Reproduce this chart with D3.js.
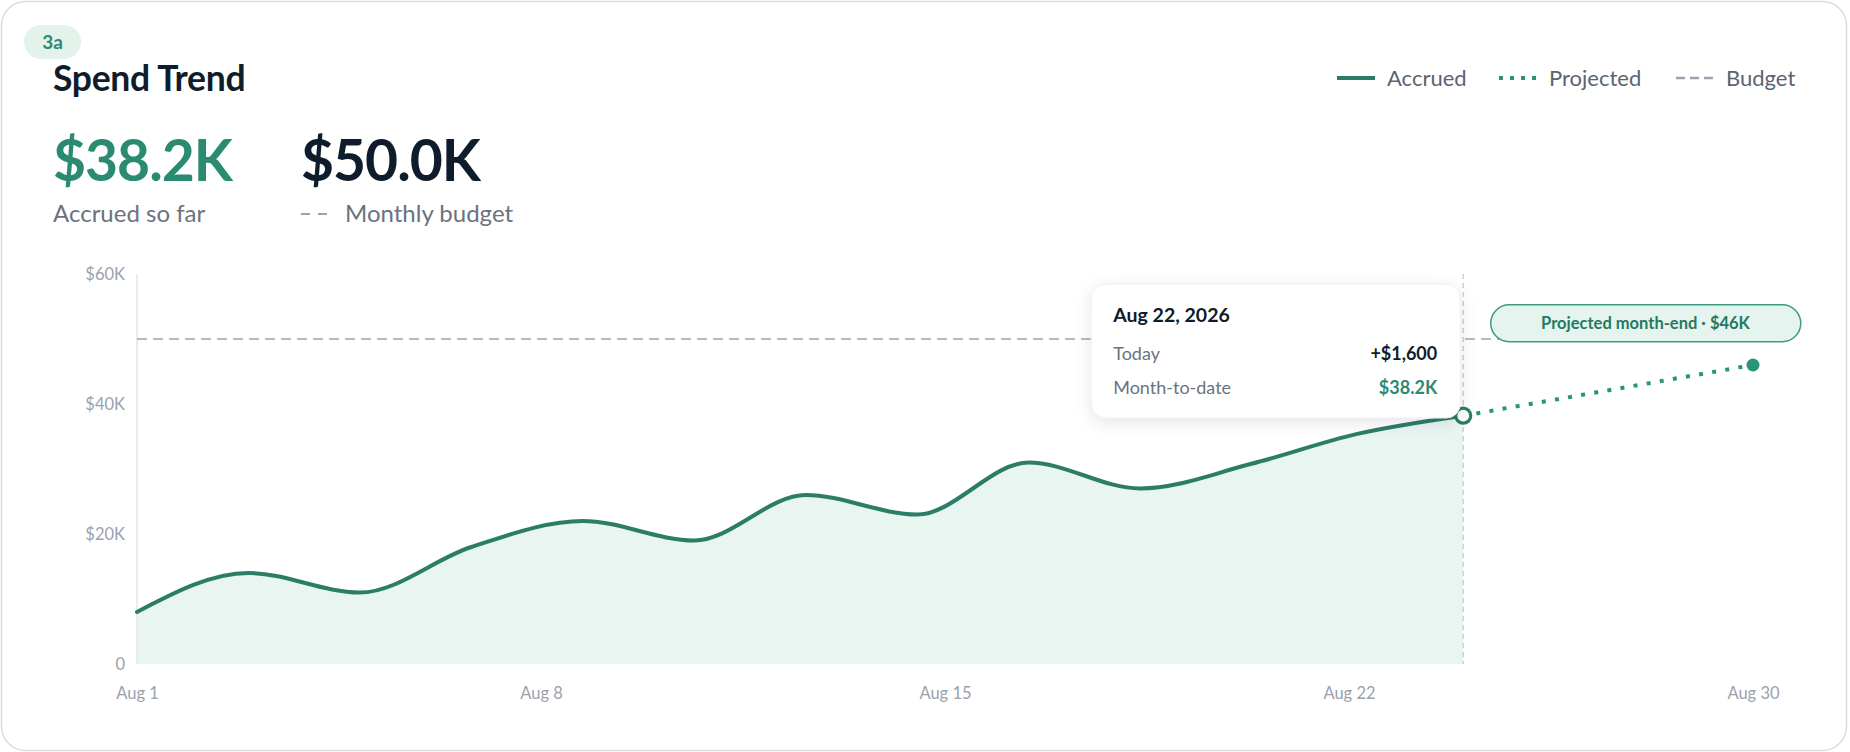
<!DOCTYPE html>
<html>
<head>
<meta charset="utf-8">
<script src="https://cdn.jsdelivr.net/npm/d3@7"></script>
<style>
  html, body { margin: 0; padding: 0; background: #ffffff; }
  svg { display: block; font-family: Lato, "Noto Sans", sans-serif; }
</style>
</head>
<body>
<svg id="chart" width="1850" height="752"></svg>
<script>
// ---------- data ----------
const days = [1, 3, 5, 7, 9, 11, 13, 15, 17, 19, 21, 22.9, 24.8];      // position along the month
const accrued = [8, 14, 11, 18, 22, 19, 26, 23, 31, 27, 30.8, 35.4, 38.2]; // $K
const projectedDays = [24.8, 30];
const projected = [38.2, 46]; // $K
const budget = 50; // $K
const yTicks = [0, 20, 40, 60];
const xTickLabels = ["Aug 1", "Aug 8", "Aug 15", "Aug 22", "Aug 30"];
const legendLabels = ["Accrued", "Projected", "Budget"];
const tooltipRows = [["Today", "+$1,600"], ["Month-to-date", "$38.2K"]];
const tooltipTitle = "Aug 22, 2026";
const pillText = "Projected month-end · $46K";

// ---------- styles ----------
const C = {
  line: "#2b7d68", proj: "#2a9478", area: "#e8f5f1", ink: "#0f1c2b",
  gray: "#6b7280", axis: "#9aa1ad", budget: "#9ca3af", green: "#2b8a72"
};

const svg = d3.select("#chart");
const defs = svg.append("defs");
const f = defs.append("filter").attr("id", "sh").attr("x", "-20%").attr("y", "-30%").attr("width", "140%").attr("height", "170%");
f.append("feDropShadow").attr("dx", 0).attr("dy", 4).attr("stdDeviation", 8).attr("flood-color", "#000").attr("flood-opacity", 0.10);

// card
svg.append("rect").attr("x", 1.5).attr("y", 1.5).attr("width", 1845).attr("height", 749)
  .attr("rx", 24).attr("fill", "#fff").attr("stroke", "#d9dce1").attr("stroke-width", 1.5);

// badge
svg.append("rect").attr("x", 24).attr("y", 25).attr("width", 57).attr("height", 34).attr("rx", 17).attr("fill", "#e4f2ec");
svg.append("text").attr("x", 52.5).attr("y", 49).attr("text-anchor", "middle")
  .attr("font-size", 19).attr("font-weight", 700).attr("fill", C.green).text("3a");

// title
svg.append("text").attr("x", 53).attr("y", 91).attr("font-size", 35.5).attr("font-weight", 700)
  .attr("fill", C.ink).attr("letter-spacing", -0.3).text("Spend Trend");

// KPIs
svg.append("text").attr("x", 53).attr("y", 181).attr("font-size", 57).attr("font-weight", 700)
  .attr("letter-spacing", -1).attr("fill", C.green).text("$38.2K");
svg.append("text").attr("x", 301).attr("y", 181).attr("font-size", 57).attr("font-weight", 700)
  .attr("letter-spacing", -1).attr("fill", C.ink).text("$50.0K");
svg.append("text").attr("x", 53).attr("y", 222).attr("font-size", 24).attr("fill", C.gray).text("Accrued so far");
svg.append("line").attr("x1", 301).attr("x2", 331).attr("y1", 214).attr("y2", 214)
  .attr("stroke", C.budget).attr("stroke-width", 2).attr("stroke-dasharray", "9 8");
svg.append("text").attr("x", 345).attr("y", 222).attr("font-size", 24).attr("fill", C.gray).text("Monthly budget");

// legend
const legX = [1337, 1499, 1676];
const legDash = [null, "4 7", "9 5"];
const legColor = [C.line, C.proj, C.budget];
const legW = [4, 4, 2.5];
const lg = svg.append("g").selectAll("g").data(legendLabels).join("g")
  .attr("transform", (d, i) => `translate(${legX[i]},78)`);
lg.append("line").attr("x1", 0).attr("x2", 38).attr("y1", 0).attr("y2", 0)
  .attr("stroke", (d, i) => legColor[i]).attr("stroke-width", (d, i) => legW[i])
  .attr("stroke-dasharray", (d, i) => legDash[i]);
lg.append("text").attr("x", 50).attr("dy", "0.35em").attr("font-size", 22).attr("fill", "#5b6472").text(d => d);

// ---------- scales ----------
const x = d3.scaleLinear().domain([1, 30]).range([137, 1753]);
const xLab = d3.scalePoint().domain(xTickLabels).range([137, 1753]);
const y = d3.scaleLinear().domain([0, 60]).range([664, 274]);

const data = days.map((d, i) => ({ d, v: accrued[i] }));
const pdata = projectedDays.map((d, i) => ({ d, v: projected[i] }));
const today = data[data.length - 1];

// axes
const gy = svg.append("g").attr("transform", `translate(${x(1)},0)`)
  .call(d3.axisLeft(y).tickValues(yTicks).tickSize(0).tickPadding(12)
    .tickFormat(d => d === 0 ? "0" : `$${d}K`));
gy.select(".domain").remove();
gy.selectAll("text").attr("font-size", 16.5).attr("fill", C.axis).attr("font-family", "Lato");

const gx = svg.append("g").attr("transform", `translate(0,${y(0)})`)
  .call(d3.axisBottom(xLab).tickSize(0).tickPadding(23));
gx.select(".domain").remove();
gx.selectAll("text").attr("font-size", 16.5).attr("fill", C.axis).attr("font-family", "Lato");

// area
svg.append("path").datum(data)
  .attr("d", d3.area().x(p => x(p.d)).y0(y(0)).y1(p => y(p.v)).curve(d3.curveMonotoneX))
  .attr("fill", C.area);

// y axis line
svg.append("line").attr("x1", x(1)).attr("x2", x(1)).attr("y1", y(60)).attr("y2", y(0))
  .attr("stroke", "#e3e5e9").attr("stroke-width", 1.5);

// budget line
svg.append("line").attr("x1", x(1)).attr("x2", x(30)).attr("y1", y(budget)).attr("y2", y(budget))
  .attr("stroke", C.budget).attr("stroke-width", 1.6).attr("stroke-dasharray", "10 6");

// today vertical
svg.append("line").attr("x1", x(today.d)).attr("x2", x(today.d)).attr("y1", y(60)).attr("y2", y(0))
  .attr("stroke", "#c8cbd0").attr("stroke-width", 1.3).attr("stroke-dasharray", "5 4");

// accrued line
svg.append("path").datum(data)
  .attr("d", d3.line().x(p => x(p.d)).y(p => y(p.v)).curve(d3.curveMonotoneX))
  .attr("fill", "none").attr("stroke", C.line).attr("stroke-width", 4).attr("stroke-linecap", "round");

// projected
svg.append("path").datum(pdata)
  .attr("d", d3.line().x(p => x(p.d)).y(p => y(p.v)))
  .attr("fill", "none").attr("stroke", C.proj).attr("stroke-width", 4).attr("stroke-dasharray", "4 9.3");
svg.append("circle").attr("cx", x(pdata[1].d)).attr("cy", y(pdata[1].v)).attr("r", 6.5).attr("fill", C.proj);

// today marker
svg.append("circle").attr("cx", x(today.d)).attr("cy", y(today.v)).attr("r", 7.5)
  .attr("fill", "#fff").attr("stroke", C.line).attr("stroke-width", 3.2);

// pill
const pill = svg.append("g").attr("transform", "translate(1490,304)");
pill.append("rect").attr("x", 0.75).attr("y", 0.75).attr("width", 310).attr("height", 37).attr("rx", 18.5)
  .attr("fill", "#e6f4ef").attr("stroke", "#3d9b82").attr("stroke-width", 1.5);
pill.append("text").attr("x", 155.5).attr("y", 19.5).attr("dy", "0.35em").attr("text-anchor", "middle")
  .attr("font-size", 16.5).attr("font-weight", 700).attr("fill", "#237a63").text(pillText);

// tooltip
const tt = svg.append("g").attr("transform", `translate(${x(today.d) - 372},284)`);
tt.append("rect").attr("width", 369).attr("height", 134).attr("rx", 14).attr("fill", "#fff")
  .attr("stroke", "#eceef1").attr("stroke-width", 1).attr("filter", "url(#sh)");
tt.append("text").attr("x", 22).attr("y", 38).attr("font-size", 19.5).attr("font-weight", 700)
  .attr("fill", C.ink).text(tooltipTitle);
const rows = tt.selectAll("g.r").data(tooltipRows).join("g").attr("class", "r")
  .attr("transform", (d, i) => `translate(0,${76 + i * 34})`);
rows.append("text").attr("x", 22).attr("font-size", 18).attr("fill", C.gray).text(d => d[0]);
rows.append("text").attr("x", 346).attr("text-anchor", "end").attr("font-size", 18).attr("font-weight", 700)
  .attr("fill", (d, i) => i === 0 ? C.ink : C.green).text(d => d[1]);
</script>
</body>
</html>
